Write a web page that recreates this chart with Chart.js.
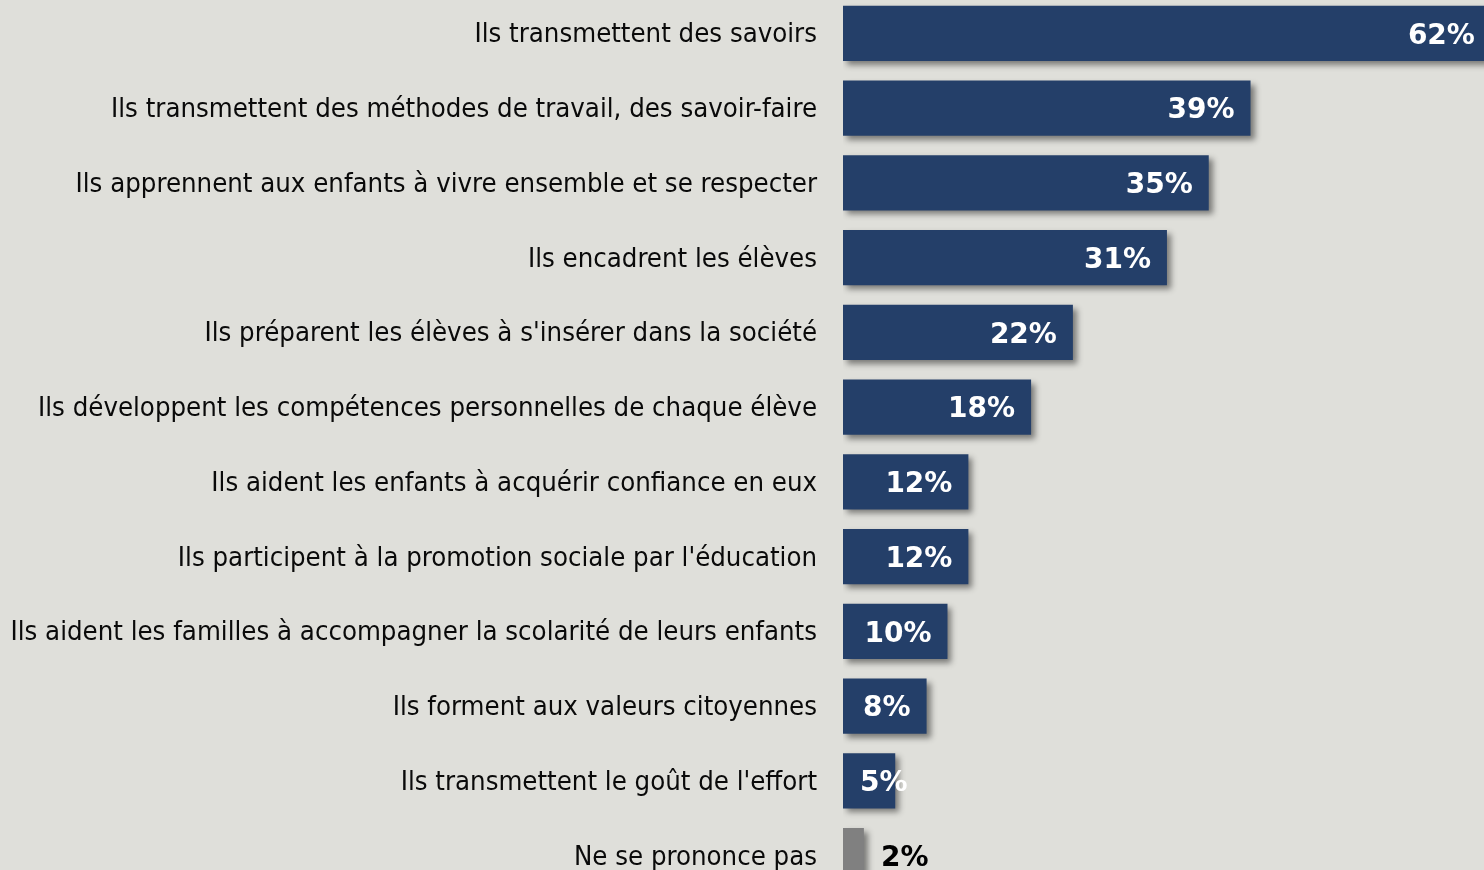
<!DOCTYPE html>
<html>
<head>
<meta charset="utf-8">
<script src="https://cdn.jsdelivr.net/npm/chart.js@4/dist/chart.umd.min.js"></script>
<style>
  html, body { margin: 0; padding: 0; background: #dfdfda; overflow: hidden; }
  #wrap { position: absolute; left: 0; top: -4px; width: 1484px; height: 897px; }
</style>
</head>
<body>
<div id="wrap"><canvas id="chart"></canvas></div>
<script>
// Données
const categories = [
  "Ils transmettent des savoirs",
  "Ils transmettent des méthodes de travail, des savoir-faire",
  "Ils apprennent aux enfants à vivre ensemble et se respecter",
  "Ils encadrent les élèves",
  "Ils préparent les élèves à s'insérer dans la société",
  "Ils développent les compétences personnelles de chaque élève",
  "Ils aident les enfants à acquérir confiance en eux",
  "Ils participent à la promotion sociale par l'éducation",
  "Ils aident les familles à accompagner la scolarité de leurs enfants",
  "Ils forment aux valeurs citoyennes",
  "Ils transmettent le goût de l'effort",
  "Ne se prononce pas"
];
const values = [62, 39, 35, 31, 22, 18, 12, 12, 10, 8, 5, 2];
const barColors = ["#243f69", "#243f69", "#243f69", "#243f69", "#243f69", "#243f69",
                   "#243f69", "#243f69", "#243f69", "#243f69", "#243f69", "#808080"];
const labelColors = ["#fff", "#fff", "#fff", "#fff", "#fff", "#fff",
                     "#fff", "#fff", "#fff", "#fff", "#fff", "#000"];

const LABEL_FONT = "'Tahoma', 'DejaVu Sans Condensed', 'DejaVu Sans', sans-serif";
const VALUE_FONT = "bold 28px 'Verdana', 'DejaVu Sans', sans-serif";

// ombre portée sous les barres
const shadowPlugin = {
  id: 'barShadow',
  beforeDatasetsDraw: function(chart) {
    const ctx = chart.ctx;
    ctx.save();
    ctx.shadowColor = 'rgba(0,0,0,0.45)';
    ctx.shadowBlur = 6;
    ctx.shadowOffsetX = 4;
    ctx.shadowOffsetY = 4;
  },
  afterDatasetsDraw: function(chart) {
    chart.ctx.restore();
  }
};

// étiquettes des valeurs
const valuePlugin = {
  id: 'valueLabels',
  afterDatasetsDraw: function(chart) {
    const ctx = chart.ctx;
    const meta = chart.getDatasetMeta(0);
    ctx.save();
    ctx.font = VALUE_FONT;
    ctx.textBaseline = 'middle';
    meta.data.forEach(function(bar, i) {
      const txt = values[i] + '%';
      const w = ctx.measureText(txt).width;
      ctx.fillStyle = labelColors[i];
      let x;
      if (labelColors[i] === "#000") {
        ctx.textAlign = 'left';
        x = bar.x + 17;
      } else {
        ctx.textAlign = 'right';
        x = Math.max(bar.x - 16, bar.base + 17 + w);
      }
      ctx.fillText(txt, x, bar.y + 3);
    });
    ctx.restore();
  }
};

new Chart(document.getElementById('chart'), {
  type: 'bar',
  data: {
    labels: categories,
    datasets: [{
      data: values,
      backgroundColor: barColors,
      borderWidth: 0,
      categoryPercentage: 0.736,
      barPercentage: 1
    }]
  },
  options: {
    indexAxis: 'y',
    responsive: true,
    maintainAspectRatio: false,
    animation: false,
    layout: { padding: 0 },
    plugins: {
      legend: { display: false },
      tooltip: { enabled: false }
    },
    scales: {
      x: {
        display: false,
        min: 0,
        max: 61.34
      },
      y: {
        grid: { display: false, drawTicks: false },
        border: { display: false },
        afterFit: function(scale) {
          scale.width = 843;
          scale.paddingTop = 0;
          scale.paddingBottom = 0;
        },
        ticks: {
          padding: 26,
          labelOffset: 2,
          color: '#0a0a0a',
          autoSkip: false,
          font: { family: LABEL_FONT, size: 27.3 }
        }
      }
    }
  },
  plugins: [shadowPlugin, valuePlugin]
});
</script>
</body>
</html>
